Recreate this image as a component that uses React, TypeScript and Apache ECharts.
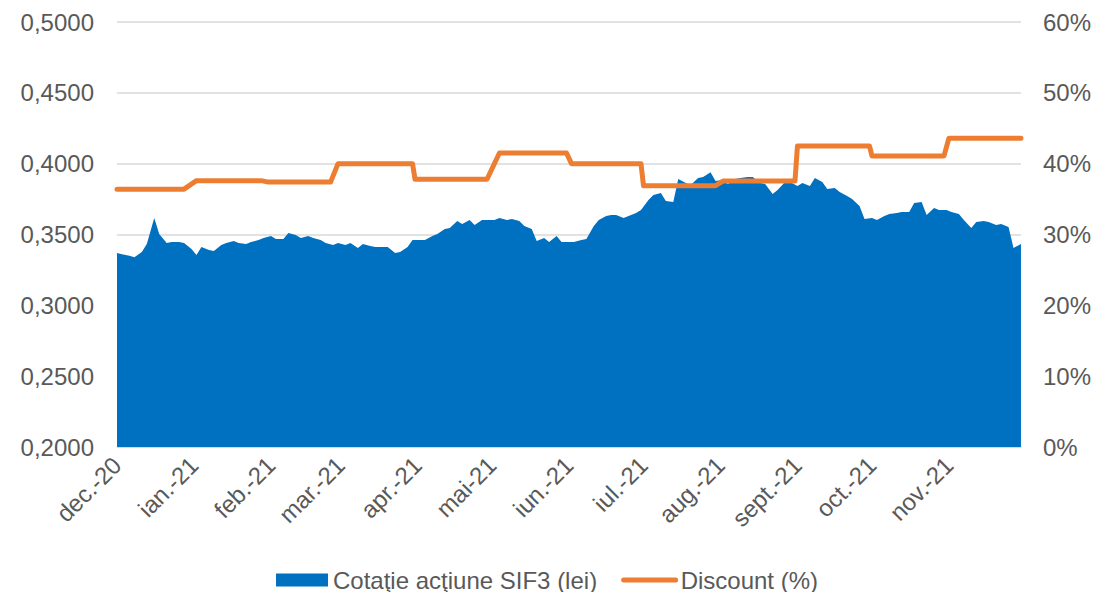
import React, { useEffect, useRef } from "react";
import * as echarts from "echarts";

const monthLabels = [
  "dec.-20", "ian.-21", "feb.-21", "mar.-21", "apr.-21", "mai-21",
  "iun.-21", "iul.-21", "aug.-21", "sept.-21", "oct.-21", "nov.-21",
];
const axisStart = "2020-12-01";
const axisEnd = "2021-11-30";

const priceDates = [
  "2020-12-01", "2020-12-03", "2020-12-06", "2020-12-08", "2020-12-11", "2020-12-13", "2020-12-16", "2020-12-18", "2020-12-21", "2020-12-23",
  "2020-12-26", "2020-12-28", "2020-12-31", "2021-01-02", "2021-01-04", "2021-01-07", "2021-01-09", "2021-01-12", "2021-01-14", "2021-01-17",
  "2021-01-19", "2021-01-22", "2021-01-24", "2021-01-27", "2021-01-29", "2021-02-01", "2021-02-03", "2021-02-06", "2021-02-08", "2021-02-11",
  "2021-02-13", "2021-02-16", "2021-02-18", "2021-02-21", "2021-02-23", "2021-02-26", "2021-02-28", "2021-03-03", "2021-03-05", "2021-03-08",
  "2021-03-10", "2021-03-13", "2021-03-15", "2021-03-18", "2021-03-20", "2021-03-23", "2021-03-25", "2021-03-28", "2021-03-30", "2021-04-02",
  "2021-04-04", "2021-04-07", "2021-04-09", "2021-04-12", "2021-04-14", "2021-04-17", "2021-04-19", "2021-04-22", "2021-04-24", "2021-04-27",
  "2021-04-29", "2021-05-02", "2021-05-04", "2021-05-07", "2021-05-09", "2021-05-12", "2021-05-14", "2021-05-17", "2021-05-19", "2021-05-22",
  "2021-05-24", "2021-05-27", "2021-05-29", "2021-06-01", "2021-06-03", "2021-06-06", "2021-06-08", "2021-06-11", "2021-06-13", "2021-06-16",
  "2021-06-18", "2021-06-20", "2021-06-23", "2021-06-25", "2021-06-28", "2021-06-30", "2021-07-03", "2021-07-05", "2021-07-08", "2021-07-10",
  "2021-07-13", "2021-07-15", "2021-07-18", "2021-07-20", "2021-07-23", "2021-07-25", "2021-07-28", "2021-07-30", "2021-08-02", "2021-08-04",
  "2021-08-07", "2021-08-09", "2021-08-12", "2021-08-14", "2021-08-17", "2021-08-19", "2021-08-22", "2021-08-24", "2021-08-27", "2021-08-29",
  "2021-09-01", "2021-09-03", "2021-09-06", "2021-09-08", "2021-09-11", "2021-09-13", "2021-09-16", "2021-09-18", "2021-09-21", "2021-09-23",
  "2021-09-26", "2021-09-28", "2021-10-01", "2021-10-03", "2021-10-06", "2021-10-08", "2021-10-11", "2021-10-13", "2021-10-16", "2021-10-18",
  "2021-10-21", "2021-10-23", "2021-10-26", "2021-10-28", "2021-10-31", "2021-11-02", "2021-11-05", "2021-11-07", "2021-11-10", "2021-11-12",
  "2021-11-15", "2021-11-17", "2021-11-20", "2021-11-22", "2021-11-25", "2021-11-27", "2021-11-30",
];

const priceValues = [
  0.3369, 0.3360, 0.3350, 0.3340, 0.3376, 0.3433, 0.3616, 0.3503, 0.3440, 0.3447,
  0.3447, 0.3440, 0.3398, 0.3355, 0.3412, 0.3391, 0.3384, 0.3426, 0.3440, 0.3454,
  0.3440, 0.3433, 0.3447, 0.3461, 0.3475, 0.3489, 0.3468, 0.3468, 0.3510, 0.3496,
  0.3475, 0.3489, 0.3475, 0.3461, 0.3440, 0.3426, 0.3440, 0.3426, 0.3440, 0.3405,
  0.3433, 0.3419, 0.3412, 0.3412, 0.3412, 0.3369, 0.3376, 0.3412, 0.3461, 0.3461,
  0.3461, 0.3489, 0.3503, 0.3539, 0.3546, 0.3595, 0.3574, 0.3602, 0.3567, 0.3602,
  0.3602, 0.3602, 0.3616, 0.3602, 0.3609, 0.3595, 0.3560, 0.3539, 0.3454, 0.3475,
  0.3447, 0.3489, 0.3447, 0.3447, 0.3447, 0.3461, 0.3468, 0.3560, 0.3602, 0.3630,
  0.3637, 0.3637, 0.3616, 0.3630, 0.3652, 0.3673, 0.3744, 0.3779, 0.3793, 0.3737,
  0.3730, 0.3892, 0.3864, 0.3850, 0.3899, 0.3906, 0.3940, 0.3878, 0.3885, 0.3856,
  0.3892, 0.3899, 0.3906, 0.3906, 0.3864, 0.3856, 0.3786, 0.3814, 0.3871, 0.3871,
  0.3843, 0.3864, 0.3843, 0.3899, 0.3871, 0.3821, 0.3828, 0.3800, 0.3772, 0.3751,
  0.3701, 0.3609, 0.3616, 0.3602, 0.3630, 0.3644, 0.3652, 0.3659, 0.3659, 0.3722,
  0.3730, 0.3637, 0.3687, 0.3673, 0.3673, 0.3659, 0.3644, 0.3602, 0.3546, 0.3588,
  0.3595, 0.3588, 0.3567, 0.3574, 0.3553, 0.3405, 0.3433,
];

const discountDates = [
  "2020-12-01", "2020-12-28", "2021-01-02", "2021-01-28", "2021-01-31",
  "2021-02-25", "2021-02-28", "2021-03-30", "2021-03-31", "2021-04-29",
  "2021-05-04", "2021-05-31", "2021-06-02", "2021-06-30", "2021-07-01",
  "2021-07-30", "2021-08-02", "2021-08-31", "2021-09-01", "2021-09-30",
  "2021-10-01", "2021-10-30", "2021-11-01", "2021-11-30",
];
const discountValues = [
  36.4, 36.4, 37.6, 37.6, 37.4,
  37.4, 40.0, 40.0, 37.8, 37.8,
  41.5, 41.5, 40.0, 40.0, 36.9,
  36.9, 37.55, 37.55, 42.5, 42.5,
  41.1, 41.1, 43.6, 43.6,
];

const priceName = "Cotaţie acţiune SIF3 (lei)";
const discountName = "Discount (%)";

export default function App() {
  const ref = useRef<HTMLDivElement>(null);
  useEffect(() => {
    if (!ref.current) return;
    const chart = echarts.init(ref.current, undefined, { renderer: "svg" });
    const textColor = "#595959";
    const font = "'Liberation Sans', Arial, sans-serif";
    const day = 24 * 3600 * 1000;
    const parse = (s: string) => {
      const [y, m, d] = s.split("-").map(Number);
      return new Date(y, m - 1, d).getTime();
    };
    const startT = parse(axisStart);
    const startDate = new Date(startT);
    chart.setOption({
      animation: false,
      backgroundColor: "#ffffff",
      textStyle: { fontFamily: font },
      grid: { left: 117, right: 71, top: 22, bottom: 145, containLabel: false },
      legend: {
        top: 563,
        left: "center",
        itemWidth: 52,
        itemHeight: 13,
        itemGap: 24,
        textStyle: { color: textColor, fontSize: 24, fontFamily: font },
        data: [
          { name: priceName, icon: "rect" },
          {
            name: discountName,
            itemStyle: { opacity: 0 },
            lineStyle: { width: 5, cap: "round" },
          },
        ],
      },
      xAxis: {
        type: "time",
        min: startT,
        max: parse(axisEnd),
        splitNumber: 12,
        minInterval: 28 * day,
        maxInterval: 31 * day,
        axisLine: { show: true, lineStyle: { color: "#D9D9D9" } },
        axisTick: { show: false },
        axisLabel: {
          color: textColor,
          fontSize: 24,
          fontFamily: font,
          fontWeight: "normal",
          rotate: 45,
          margin: 14,
          interval: 0,
          hideOverlap: false,
          formatter: (v: number) => {
            const d = new Date(v);
            const idx =
              (d.getFullYear() - startDate.getFullYear()) * 12 +
              d.getMonth() - startDate.getMonth();
            return monthLabels[idx] ?? "";
          },
        },
        splitLine: { show: false },
      },
      yAxis: [
        {
          type: "value",
          min: 0.2,
          max: 0.5,
          interval: 0.05,
          axisLine: { show: false },
          axisTick: { show: false },
          axisLabel: {
            color: textColor,
            fontSize: 24,
            fontFamily: font,
            margin: 23,
            formatter: (v: number) => v.toFixed(4).replace(".", ","),
          },
          splitLine: { show: true, lineStyle: { color: "#D9D9D9", width: 1.5 } },
        },
        {
          type: "value",
          min: 0,
          max: 60,
          interval: 10,
          axisLine: { show: false },
          axisTick: { show: false },
          axisLabel: {
            color: textColor,
            fontSize: 24,
            fontFamily: font,
            margin: 22,
            formatter: (v: number) => `${v}%`,
          },
          splitLine: { show: false },
        },
      ],
      series: [
        {
          name: priceName,
          type: "line",
          yAxisIndex: 0,
          data: priceDates.map((d, i) => [parse(d), priceValues[i]]),
          showSymbol: false,
          symbol: "none",
          color: "#0070C0",
          lineStyle: { width: 0, color: "#0070C0" },
          areaStyle: { color: "#0070C0", opacity: 1, origin: "start" },
        },
        {
          name: discountName,
          type: "line",
          yAxisIndex: 1,
          data: discountDates.map((d, i) => [parse(d), discountValues[i]]),
          showSymbol: false,
          symbol: "none",
          color: "#ED7D31",
          lineStyle: { width: 5, color: "#ED7D31", cap: "round", join: "round" },
        },
      ],
    });
    return () => chart.dispose();
  }, []);
  return (
    <div
      ref={ref}
      style={{ position: "fixed", left: 0, top: 0, width: 1094, height: 592 }}
    />
  );
}
